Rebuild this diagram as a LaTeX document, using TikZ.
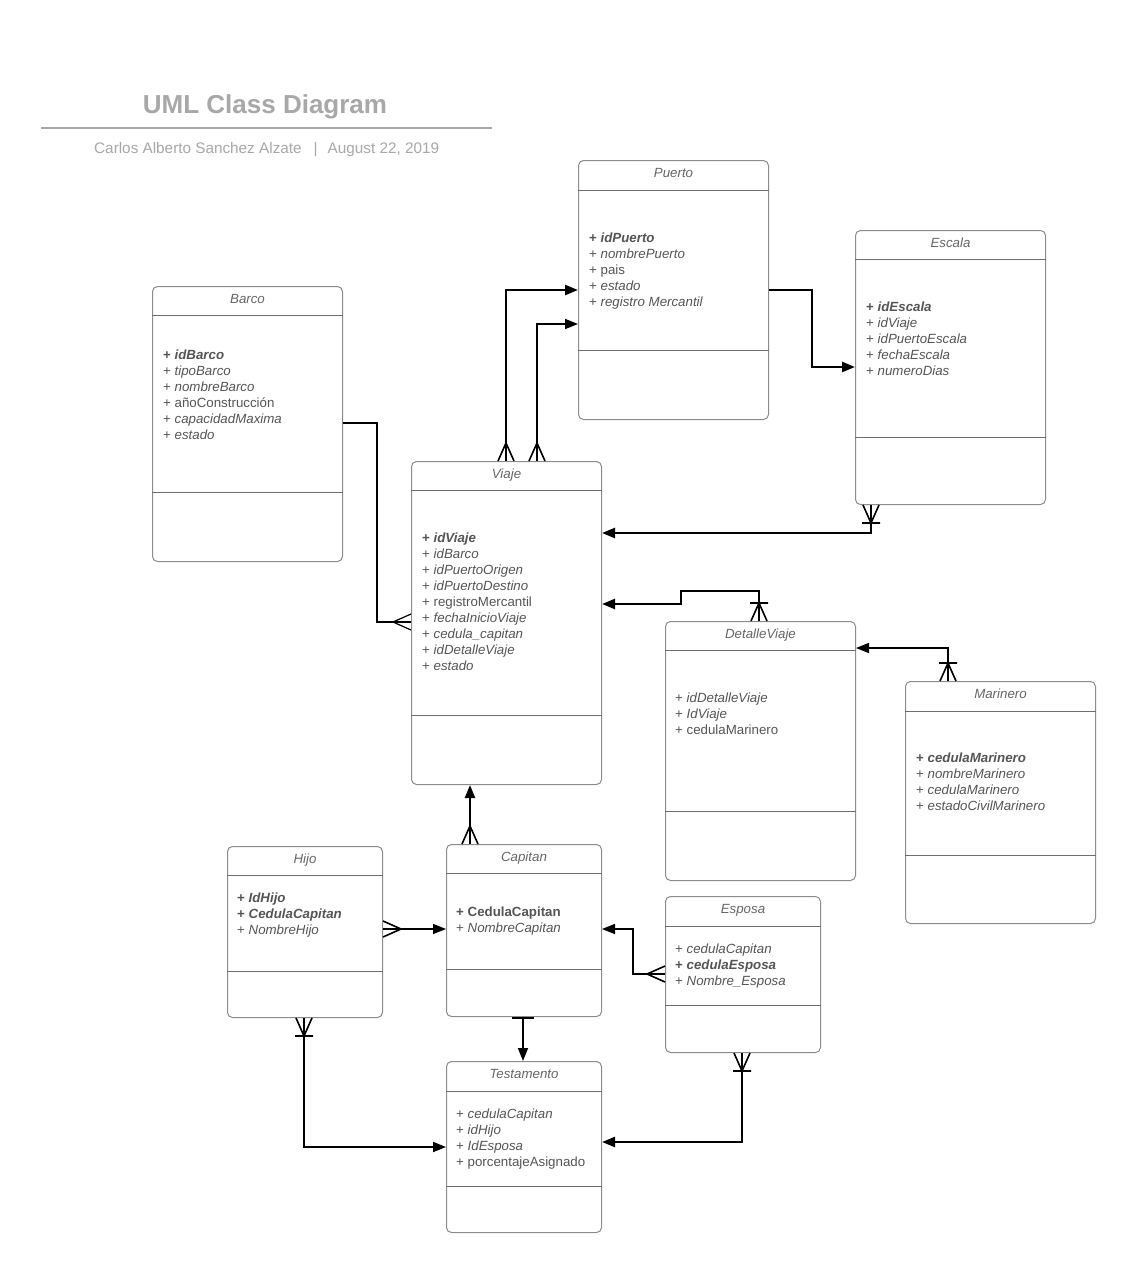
\documentclass[tikz,border=0pt]{standalone}
\usepackage{fontspec}
\setmainfont{Liberation Sans}
\usetikzlibrary{calc,arrows.meta}
\definecolor{boxgray}{HTML}{8C8C8C}
\definecolor{divgray}{HTML}{6E6E6E}
\definecolor{txtgray}{HTML}{555555}
\definecolor{titlegray}{HTML}{666666}
\definecolor{headgray}{HTML}{A8A8A8}
\tikzset{
 classbox/.style={draw=boxgray, line width=1pt, rounded corners=5pt, inner sep=0pt, fill=white},
 divline/.style={draw=divgray, line width=0.9pt},
 ctitle/.style={font=\fontsize{13.3}{16}\selectfont\itshape, text=titlegray, inner sep=0pt, anchor=base},
 attr/.style={font=\fontsize{13.3}{16}\selectfont, text=txtgray, inner sep=0pt, align=left, anchor=north west},
 thickc/.style={line width=2.4pt},
 medc/.style={line width=1.7pt},
 thinc/.style={line width=1.2pt},
 tip/.style={-{Triangle[length=13pt,width=10pt]}},
}
\newcommand\umlclass[8]{%
 \node[classbox, minimum width=#4pt, minimum height=#5pt, anchor=north west] (#1) at (#2,#3) {};
 \draw[divline] ($(#1.north west)+(0,#6)$) -- ($(#1.north east)+(0,#6)$);
 \draw[divline] ($(#1.north west)+(0,#7)$) -- ($(#1.north east)+(0,#7)$);
 \node[ctitle] (#1-title) at ($(#1.north)+(0,17.5)$) {#8};
}
\newcommand\st{\rule{0pt}{10pt}}
\newcommand\ai[1]{+ \textit{#1}}
\newcommand\ab[1]{\textbf{+ \textit{#1}}}
\newcommand\au[1]{+ #1}
\newcommand\abu[1]{\textbf{+ #1}}
\newcommand\crowfoot[3][]{\begin{scope}[shift={(#2)},rotate=#3]\draw[line width=1.6pt,#1] (0,-8) -- (18,0) -- (0,8);\end{scope}}
\newcommand\crowfootbar[3][]{\begin{scope}[shift={(#2)},rotate=#3]\draw[line width=1.6pt,#1] (0,-8) -- (18,0) -- (0,8) (18,-9) -- (18,9);\end{scope}}
\begin{document}
\begin{tikzpicture}[x=1pt,y=-1pt]
\useasboundingbox (0,0) rectangle (1146,1269);
\fill[white] (0,0) rectangle (1146,1269);

% header
\node[font=\fontsize{26}{30}\selectfont\bfseries, text=headgray, inner sep=0pt, anchor=base] (title) at (265,113) {UML Class Diagram};
\draw[draw=headgray, line width=1.5pt] (41,128) -- (492,128);
\node[font=\fontsize{15.3}{18}\selectfont, text=headgray, inner sep=0pt, anchor=base west] (sub) at (94,153.3) {Carlos Alberto Sanchez Alzate\hspace{12pt}|\hspace{10pt}August 22, 2019};

% classes
\umlclass{puerto}{578}{160}{190}{259}{30}{190}{Puerto}
\umlclass{escala}{855}{230}{190}{274}{29}{207}{Escala}
\umlclass{barco}{152}{286}{190}{275}{29}{206}{Barco}
\umlclass{viaje}{411}{461}{190}{323}{29}{254}{Viaje}
\umlclass{detalle}{665}{621}{190}{259}{29}{190}{DetalleViaje}
\umlclass{marinero}{905}{681}{190}{242}{30}{174}{Marinero}
\umlclass{hijo}{227}{846}{155}{171}{29}{125}{Hijo}
\umlclass{capitan}{446}{844}{155}{172}{29}{125}{Capitan}
\umlclass{esposa}{665}{896}{155}{156}{30}{109}{Esposa}
\umlclass{testamento}{446}{1061}{155}{171}{30}{125}{Testamento}

% attributes
\node[attr] (puerto-attr) at (589,231.8) {\st\ab{idPuerto}\\\ai{nombrePuerto}\\\au{pais}\\\ai{estado}\\\ai{registro Mercantil}};
\node[attr] (escala-attr) at (866,300.8) {\st\ab{idEscala}\\\ai{idViaje}\\\ai{idPuertoEscala}\\\ai{fechaEscala}\\\ai{numeroDias}};
\node[attr] (barco-attr) at (163,348.8) {\st\ab{idBarco}\\\ai{tipoBarco}\\\ai{nombreBarco}\\\au{añoConstrucción}\\\ai{capacidadMaxima}\\\ai{estado}};
\node[attr] (viaje-attr) at (422,531.8) {\st\ab{idViaje}\\\ai{idBarco}\\\ai{idPuertoOrigen}\\\ai{idPuertoDestino}\\\au{registroMercantil}\\\ai{fechaInicioViaje}\\\ai{cedula\_capitan}\\\ai{idDetalleViaje}\\\ai{estado}};
\node[attr] (detalle-attr) at (675,691.8) {\st\ai{idDetalleViaje}\\\ai{IdViaje}\\\au{cedulaMarinero}};
\node[attr] (marinero-attr) at (916,751.8) {\st\ab{cedulaMarinero}\\\ai{nombreMarinero}\\\ai{cedulaMarinero}\\\ai{estadoCivilMarinero}};
\node[attr] (hijo-attr) at (237,891.8) {\st\ab{IdHijo}\\\ab{CedulaCapitan}\\\ai{NombreHijo}};
\node[attr] (capitan-attr) at (456,905.8) {\st\abu{CedulaCapitan}\\\ai{NombreCapitan}};
\node[attr] (esposa-attr) at (675,942.8) {\st\ai{cedulaCapitan}\\\ab{cedulaEsposa}\\\ai{Nombre\_Esposa}};
\node[attr] (testamento-attr) at (456,1107.8) {\st\ai{cedulaCapitan}\\\ai{idHijo}\\\ai{IdEsposa}\\\au{porcentajeAsignado}};

% connectors
\coordinate (v1) at ($(viaje.north west)+(95,0)$);
\coordinate (p1) at ($(puerto.north west)+(0,130)$);
\draw[thickc,tip] (v1) |- (p1);
\crowfoot{v1}{90}

\coordinate (v2) at ($(viaje.north west)+(126,0)$);
\coordinate (p2) at ($(puerto.north west)+(0,164)$);
\draw[medc,tip] (v2) |- (p2);
\crowfoot{v2}{90}

\coordinate (p3) at ($(puerto.north east)+(0,130)$);
\coordinate (e3) at ($(escala.north west)+(0,137)$);
\draw[thickc,tip] (p3) -- ++(43,0) |- (e3);

\coordinate (e4) at ($(escala.south west)+(16,0)$);
\coordinate (v4) at ($(viaje.north east)+(0,72)$);
\draw[thickc,tip] (e4) |- (v4);
\crowfootbar{e4}{270}

\coordinate (d5) at ($(detalle.north west)+(94,0)$);
\coordinate (v5) at ($(viaje.north east)+(0,143)$);
\draw[thickc,tip] (d5) -- ++(0,-30) -- ++(-78,0) |- (v5);
\crowfootbar{d5}{90}

\coordinate (m6) at ($(marinero.north west)+(43,0)$);
\coordinate (d6) at ($(detalle.north east)+(0,27)$);
\draw[medc,tip] (m6) |- (d6);
\crowfootbar{m6}{90}

\coordinate (b7) at ($(barco.north east)+(0,137)$);
\coordinate (v7) at ($(viaje.north west)+(0,161)$);
\draw[thinc] (b7) -- ++(34,0) |- (v7);
\crowfoot[line width=1.2pt]{v7}{180}

\coordinate (c8) at ($(capitan.north west)+(24,0)$);
\coordinate (v8) at ($(viaje.south west)+(59,0)$);
\draw[thickc,tip] (c8) -- (v8);
\crowfoot{c8}{90}

\coordinate (h9) at ($(hijo.north east)+(0,83)$);
\coordinate (c9) at ($(capitan.north west)+(0,85)$);
\draw[thinc,tip] (h9) -- (c9);
\crowfoot{h9}{0}

\coordinate (s10) at ($(esposa.north west)+(0,78)$);
\coordinate (c10) at ($(capitan.north east)+(0,85)$);
\draw[medc,tip] (s10) -- ++(-32,0) |- (c10);
\crowfoot{s10}{180}

\coordinate (c11) at ($(capitan.south west)+(77,0)$);
\coordinate (t11) at ($(testamento.north west)+(77,0)$);
\draw[medc,tip] (c11) -- (t11);
\draw[line width=1.8pt] ($(c11)+(-11,1)$) -- ($(c11)+(11,1)$);

\coordinate (h12) at ($(hijo.south west)+(77,0)$);
\coordinate (t12) at ($(testamento.north west)+(0,86)$);
\draw[medc,tip] (h12) |- (t12);
\crowfootbar{h12}{270}

\coordinate (s13) at ($(esposa.south west)+(77,0)$);
\coordinate (t13) at ($(testamento.north east)+(0,81)$);
\draw[thickc,tip] (s13) |- (t13);
\crowfootbar{s13}{270}
\end{tikzpicture}
\end{document}
